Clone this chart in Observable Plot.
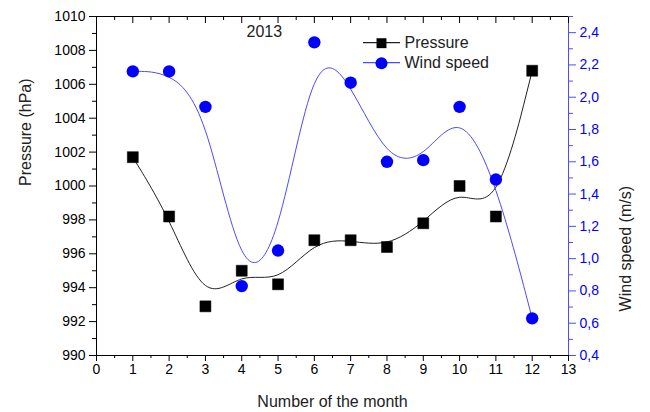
<!DOCTYPE html>
<html><head><meta charset="utf-8">
<script src="https://cdn.jsdelivr.net/npm/d3@7"></script>
<script src="https://cdn.jsdelivr.net/npm/@observablehq/plot@0.6"></script>
<style>body{margin:0;background:#fff;font-family:"Liberation Sans",Arial,sans-serif}</style>
</head><body><div id="chart"></div>
<script>
const months = [1,2,3,4,5,6,7,8,9,10,11,12];
const pressure = [1001.7, 998.2, 992.9, 995.0, 994.2, 996.8, 996.8, 996.4, 997.8, 1000.0, 998.2, 1006.8];
const windSpeed = [2.16, 2.16, 1.94, 0.83, 1.05, 2.34, 2.09, 1.60, 1.61, 1.94, 1.49, 0.63];
const xTicks = [0,1,2,3,4,5,6,7,8,9,10,11,12,13];
const xMinorTicks = [0.5,1.5,2.5,3.5,4.5,5.5,6.5,7.5,8.5,9.5,10.5,11.5,12.5];
const pressureTicks = [990,992,994,996,998,1000,1002,1004,1006,1008,1010];
const pressureMinorTicks = [991,993,995,997,999,1001,1003,1005,1007,1009];
const windTicks = [0.4,0.6,0.8,1.0,1.2,1.4,1.6,1.8,2.0,2.2,2.4];
const windMinorTicks = [0.5,0.7,0.9,1.1,1.3,1.5,1.7,1.9,2.1,2.3,2.5];
const pDomain = [990, 1010];
const wDomain = [0.4, 2.5];
const seriesNames = ["Pressure", "Wind speed"];

const w2p = w => pDomain[0] + (w - wDomain[0]) * (pDomain[1]-pDomain[0])/(wDomain[1]-wDomain[0]);
const p2w = p => wDomain[0] + (p - pDomain[0]) * (wDomain[1]-wDomain[0])/(pDomain[1]-pDomain[0]);
const rows = months.map((m,i) => ({month: m, pressure: pressure[i], wind: windSpeed[i]}));

const BLUE = "#0000ff";
const BLUE_AXIS = "#4d4dff";
const empty = () => "";

const plot = Plot.plot({
  width: 650, height: 412,
  marginLeft: 96, marginRight: 82, marginTop: 16, marginBottom: 57,
  style: {fontFamily: '"Liberation Sans", Arial, sans-serif', fontSize: "14px", color: "#000", background: "#fff"},
  x: {domain: [0, 13]},
  y: {domain: pDomain},
  marks: [
    // frame
    Plot.ruleY([pDomain[1]], {stroke: "#000"}),
    Plot.ruleY([pDomain[0]], {stroke: "#000"}),
    Plot.ruleX([0], {stroke: "#000"}),
    Plot.ruleX([13], {stroke: BLUE_AXIS}),
    // bottom axis
    Plot.axisX({ticks: xTicks, tickSize: 6, tickPadding: 3, label: null, fontSize: 14, tickFormat: d => String(d)}),
    Plot.axisX({ticks: xMinorTicks, tickSize: 3, label: null, tickFormat: empty}),
    // top ticks inward
    Plot.axisX({anchor: "top", ticks: xTicks, tickSize: 6, dy: 6, label: null, tickFormat: empty}),
    Plot.axisX({anchor: "top", ticks: xMinorTicks, tickSize: 3, dy: 3, label: null, tickFormat: empty}),
    // left axis
    Plot.axisY({ticks: pressureTicks, tickSize: 7, tickPadding: 4, label: null, fontSize: 14, tickFormat: d => String(d)}),
    Plot.axisY({ticks: pressureMinorTicks, tickSize: 4, label: null, tickFormat: empty}),
    // right axis (wind)
    Plot.axisY({anchor: "right", ticks: windTicks.map(w2p), tickSize: 7, tickPadding: 4, label: null, fontSize: 14,
      stroke: BLUE_AXIS, fill: BLUE, tickFormat: p => p2w(p).toFixed(1).replace(".", ",")}),
    Plot.axisY({anchor: "right", ticks: windMinorTicks.map(w2p), tickSize: 4, label: null, stroke: BLUE_AXIS, tickFormat: empty}),
    // axis titles
    Plot.text(["Pressure (hPa)"], {frameAnchor: "left", dx: -71, rotate: -90, fontSize: 16, fill: "#222", lineAnchor: "middle"}),
    Plot.text(["Wind speed (m/s)"], {frameAnchor: "right", dx: 57, rotate: -90, fontSize: 16, fill: "#222", lineAnchor: "middle"}),
    Plot.text(["Number of the month"], {frameAnchor: "bottom", dy: 46.5, fontSize: 16, fill: "#222", lineAnchor: "middle"}),
    Plot.text(["2013"], {frameAnchor: "top-left", dx: 150, dy: 15.5, fontSize: 16, fill: "#222", lineAnchor: "middle"}),
    // curves
    Plot.line(rows, {x: "month", y: "pressure", curve: "basis", stroke: "#222", strokeWidth: 1}),
    Plot.line(rows, {x: "month", y: d => w2p(d.wind), curve: "basis", stroke: "#4b4bff", strokeWidth: 1}),
    // markers
    Plot.dot(rows, {x: "month", y: "pressure", symbol: "square", r: 6.2, fill: "#000", stroke: "#000", strokeWidth: 0.5}),
    Plot.dot(rows, {x: "month", y: d => w2p(d.wind), symbol: "circle", r: 6.2, fill: BLUE}),
    // legend
    Plot.dot([seriesNames[0]], {frameAnchor: "top-left", dx: 285, dy: 26.7, symbol: "square", r: 5.6, fill: "#000"}),
    Plot.dot([seriesNames[1]], {frameAnchor: "top-left", dx: 285, dy: 46.7, symbol: "circle", r: 6, fill: BLUE}),
    Plot.text([seriesNames[0]], {frameAnchor: "top-left", dx: 308, dy: 26.7, textAnchor: "start", lineAnchor: "middle", fontSize: 16, fill: "#222"}),
    Plot.text([seriesNames[1]], {frameAnchor: "top-left", dx: 308, dy: 46.7, textAnchor: "start", lineAnchor: "middle", fontSize: 16, fill: "#222"})
  ]
});
document.getElementById("chart").append(plot);

// legend line segments (drawn beneath the legend symbols)
const svg = d3.select(plot);
const leg = [{y: 16 + 26.7, c: "#222"}, {y: 16 + 46.7, c: "#4b4bff"}];
const legG = svg.append("g").attr("aria-label", "legend lines");
leg.forEach(l => {
  legG.append("line").attr("x1", 96 + 267).attr("x2", 96 + 304)
    .attr("y1", l.y).attr("y2", l.y).attr("stroke", l.c).attr("stroke-width", 1.2);
});
legG.lower();
</script>
</body></html>
